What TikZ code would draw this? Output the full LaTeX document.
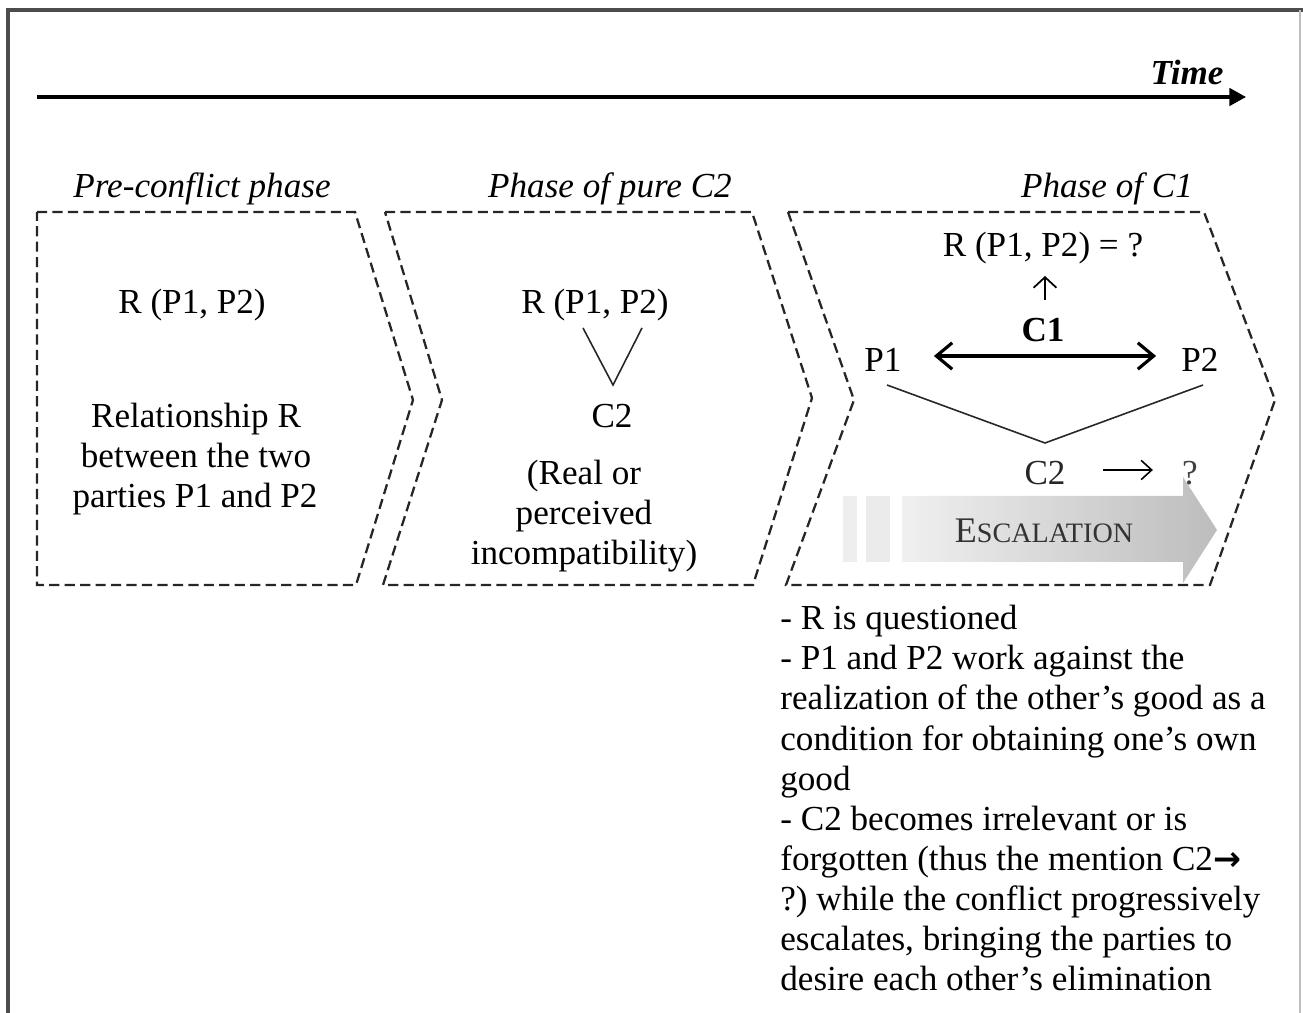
\documentclass[tikz,border=0pt]{standalone}
\usepackage{fontspec}
\setmainfont{Liberation Serif}
\newfontfamily\arrowfont{DejaVu Sans}
\usetikzlibrary{arrows.meta,calc}
\begin{document}
\begin{tikzpicture}[x=0.02cm,y=-0.02cm,
  phasebox/.style={draw=black!85, line width=1.3pt, dash pattern=on 5.8pt off 3pt, line join=miter},
  txt/.style={font=\fontsize{20}{22.76}\selectfont, inner sep=0pt, anchor=base},
  ltxt/.style={font=\fontsize{20}{22.76}\selectfont, inner sep=0pt, anchor=base west},
  thinline/.style={line width=0.9pt, black!85},
  thinarrow/.style={line width=0.9pt, -{Straight Barb[length=6pt,width=11pt,line width=0.9pt]}},
  c1arrow/.style={line width=1.8pt, {Straight Barb[length=9pt,width=15pt,line width=1.8pt]}-{Straight Barb[length=9pt,width=15pt,line width=1.8pt]}}
]
\useasboundingbox (0,0) rectangle (1303,1013);
% frame
\draw[line width=2pt, black!70] (8,1013) -- (8,10) -- (1303,10);
\draw[line width=0.6pt, black!25] (1300,10) -- (1300,1013);

% time axis
\coordinate (tstart) at (37,97);
\coordinate (tend) at (1246,97);
\draw[line width=1.8pt, -{Triangle[length=9.5pt,width=10pt]}] (tstart) -- (tend);
\node[txt, font=\fontsize{20}{22.76}\selectfont\bfseries\itshape] (time) at (1187,85) {Time};

% phase shapes
\draw[phasebox] (37,212) -- (355,212) -- (413,400) -- (356,585) -- (37,585) -- cycle;
\draw[phasebox] (385,212) -- (752,212) -- (812,398) -- (753,585) -- (383,585) -- (442,400) -- cycle;

% escalation arrow (behind the third shape's border)
\fill[gray!13] (843,496) rectangle (857,562);
\fill[gray!16] (866,496) rectangle (890,562);
\shade[left color=gray!12, right color=gray!52]
  (902,496) -- (1183,496) -- (1183,477) -- (1217,530) -- (1183,583) -- (1183,562) -- (902,562) -- cycle;
\node[txt, text=black!80] (esc) at (1044,543) {{\fontsize{20.5}{22}\selectfont E}{\fontsize{16}{18}\selectfont SCALATION}};

\draw[phasebox] (788,212) -- (1204,212) -- (1275,400) -- (1210,585) -- (786,585) -- (854,400) -- cycle;

% titles
\node[txt, font=\fontsize{20}{22.76}\selectfont\itshape] (h1) at (202,198) {Pre-conflict phase};
\node[txt, font=\fontsize{20}{22.76}\selectfont\itshape] (h2) at (610,198) {Phase of pure C2};
\node[txt, font=\fontsize{20}{22.76}\selectfont\itshape] (h3) at (1107,198) {Phase of C1};

% phase 1
\node[txt] (r1) at (192,314) {R (P1, P2)};
\node[txt] (d1a) at (196,428) {Relationship R};
\node[txt] (d1b) at (196,468) {between the two};
\node[txt] (d1c) at (195,508) {parties P1 and P2};

% phase 2
\node[txt] (r2) at (595,314) {R (P1, P2)};
\coordinate (v2) at (613,385);
\draw[thinline] ($(r2.base)+(-12,14)$) -- (v2) -- ($(r2.base)+(47,14)$);
\node[txt] (c2a) at (612,428) {C2};
\node[txt] (d2a) at (584,485) {(Real or};
\node[txt] (d2b) at (584,525) {perceived};
\node[txt] (d2c) at (584,565) {incompatibility)};

% phase 3
\node[txt] (r3) at (1043,257) {R (P1, P2) = ?};
\node[txt, font=\fontsize{20}{22.76}\selectfont\bfseries] (c1) at (1043,342) {C1};
\draw[line width=1pt, -{Straight Barb[length=6pt,width=13pt,line width=1pt]}]
  ($(c1.base)+(2,-42)$) -- ($(r3.base)+(2,19)$);
\node[txt] (p1) at (883,372) {P1};
\node[txt] (p2) at (1200,372) {P2};
\draw[c1arrow] ($(p1.base east)+(32,-16)$) -- ($(p2.base west)+(-25,-16)$);
\coordinate (v3) at (1045,443);
\draw[thinline] ($(p1.base)+(4,13)$) -- (v3) -- ($(p2.base)+(3,13)$);
\node[txt, text=black!85] (c2b) at (1045,485) {C2};
\node[txt, text=black!75] (q) at (1190,485) {?};
\draw[thinarrow] ($(c2b.base east)+(37,-15)$) -- ($(q.base west)+(-29,-15)$);

% description
\node[ltxt] (l1) at (780,630) {- R is questioned};
\node[ltxt] (l2) at (780,670) {- P1 and P2 work against the};
\node[ltxt] (l3) at (780,710) {realization of the other’s good as a};
\node[ltxt] (l4) at (780,750) {condition for obtaining one’s own};
\node[ltxt] (l5) at (780,790) {good};
\node[ltxt] (l6) at (780,830) {- C2 becomes irrelevant or is};
\node[ltxt] (l7) at (780,870) {forgotten (thus the mention C2{\arrowfont\bfseries\fontsize{19}{22}\selectfont →}};
\node[ltxt] (l8) at (780,910) {?)\ while the conflict progressively};
\node[ltxt] (l9) at (780,950) {escalates, bringing the parties to};
\node[ltxt] (l10) at (780,990) {desire each other’s elimination};
\end{tikzpicture}
\end{document}
